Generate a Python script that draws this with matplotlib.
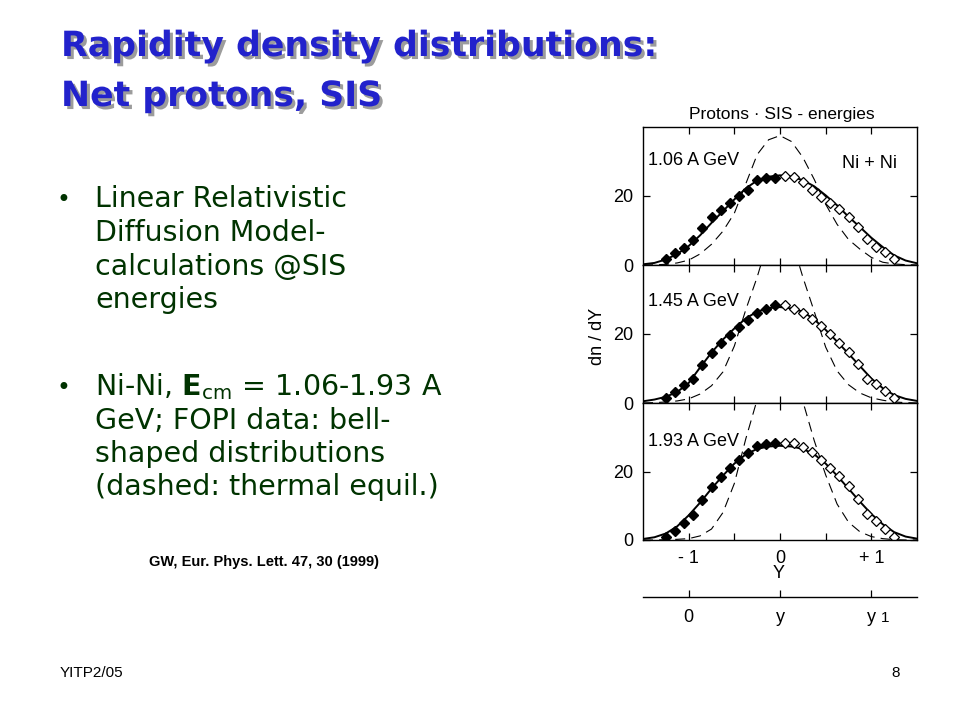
import matplotlib.pyplot as plt
import matplotlib.patheffects as pe

# Slide + figure: net-proton rapidity distributions at SIS energies (Ni + Ni)

# Model curves on a rapidity grid: full line = linear RDM, dashed = thermal equilibrium
model_Y = [-1.5, -1.375, -1.25, -1.125, -1.0, -0.875, -0.75, -0.625, -0.5, -0.375, -0.25, -0.125,
           0.0, 0.125, 0.25, 0.375, 0.5, 0.625, 0.75, 0.875, 1.0, 1.125, 1.25, 1.375, 1.5]

rdm_106 = [0.2, 0.6, 1.6, 3.2, 5.5, 8.6, 12.2, 15.6, 19.0, 22.2, 24.5, 25.6,
           26.0, 25.6, 24.6, 22.8, 20.2, 17.3, 14.0, 11.0, 7.9, 5.2, 2.8, 1.3, 0.5]
thermal_106 = [0.0, 0.05, 0.2, 0.6, 1.4, 3.2, 6.0, 9.8, 15.0, 23.5, 32.0, 36.3,
               37.5, 35.8, 31.2, 24.8, 17.6, 11.8, 7.4, 4.6, 2.2, 0.8, 0.3, 0.1, 0.0]

rdm_145 = [0.5, 1.0, 1.8, 3.2, 5.8, 10.3, 14.6, 18.4, 21.6, 24.5, 26.5, 27.5,
           27.8, 27.4, 26.5, 24.2, 21.2, 17.8, 14.3, 10.7, 7.1, 4.3, 2.3, 1.2, 0.6]
thermal_145 = [0.0, 0.1, 0.3, 0.6, 1.2, 2.6, 5.0, 9.0, 16.5, 27.0, 36.5, 47.5,
               50.5, 47.5, 36.5, 26.5, 16.2, 9.3, 5.3, 2.9, 1.5, 0.8, 0.3, 0.1, 0.0]

rdm_193 = [0.3, 0.8, 1.9, 4.0, 7.2, 10.9, 15.0, 18.8, 22.3, 25.0, 26.6, 27.3,
           27.5, 27.3, 26.6, 25.0, 22.3, 18.8, 15.0, 11.2, 7.6, 4.6, 2.3, 1.0, 0.4]
thermal_193 = [0.0, 0.0, 0.1, 0.2, 0.4, 1.2, 3.2, 8.0, 16.5, 29.5, 41.0, 49.0,
               52.0, 49.0, 40.5, 29.0, 19.0, 10.5, 5.2, 2.4, 1.0, 0.4, 0.1, 0.0, 0.0]

# FOPI data: measured points (filled) and points reflected at midrapidity (open)
data_Y_meas = [-1.25, -1.15, -1.05, -0.95, -0.85, -0.75, -0.65, -0.55, -0.45, -0.35, -0.25, -0.15, -0.05]
data_Y_refl = [0.05, 0.15, 0.25, 0.35, 0.45, 0.55, 0.65, 0.75, 0.85, 0.95, 1.05, 1.15, 1.25]

fopi_106_meas = [1.6, 3.6, 4.8, 7.2, 10.6, 13.8, 15.9, 18.0, 19.9, 21.6, 24.5, 25.3, 25.3]
fopi_106_refl = [25.7, 25.5, 24.2, 21.8, 19.8, 18.1, 16.1, 13.8, 11.0, 7.6, 5.2, 3.7, 1.6]
fopi_145_meas = [1.4, 3.2, 5.1, 6.9, 11.1, 14.6, 17.5, 19.8, 22.0, 24.0, 26.2, 27.3, 28.3]
fopi_145_refl = [28.5, 27.3, 26.2, 24.3, 22.2, 19.9, 17.5, 14.8, 11.4, 7.0, 5.4, 3.4, 1.5]
fopi_193_meas = [0.8, 2.7, 5.0, 7.2, 11.6, 15.5, 18.4, 21.0, 23.4, 25.3, 27.5, 28.0, 28.3]
fopi_193_refl = [28.3, 28.2, 27.2, 25.6, 23.4, 21.1, 18.6, 15.7, 11.9, 7.5, 5.5, 3.1, 1.0]

energy_labels = ["1.06 A GeV", "1.45 A GeV", "1.93 A GeV"]
x_ticks = [-1, -0.5, 0, 0.5, 1]
x_tick_labels = ["- 1", "", "0", "", "+ 1"]
y_ticks = [0, 20]
y_tick_labels = ["0", "20"]
lower_ticks = [-1, 0, 1]
lower_tick_labels = ["0", "y", "y"]

plt.rcParams["font.family"] = ["Liberation Sans", "DejaVu Sans"]

fig = plt.figure(figsize=(9.6, 7.2), dpi=100)


def fx(x):
    # pixel column -> figure fraction
    return x / 960


def fy(y):
    # pixel row (from top) -> figure fraction
    return 1 - y / 720


# ---- slide text ----
title_lines = ["Rapidity density distributions:", "Net protons, SIS"]
title_base = [56, 106]
shadow = [pe.withSimplePatchShadow(offset=(2.2, -2.2), shadow_rgbFace="#9c9c9c", alpha=1.0)]
for line, yb in zip(title_lines, title_base):
    fig.text(fx(61), fy(yb), line, fontsize=25, weight="bold", color="#2222cc",
             family="DejaVu Sans", va="baseline", path_effects=shadow)

green = "#003300"
bullet1 = ["Linear Relativistic", "Diffusion Model-", "calculations @SIS", "energies"]
bullet2 = [r"Ni-Ni, $\mathbf{E}_{\mathrm{cm}}$ = 1.06-1.93 A", "GeV; FOPI data: bell-",
           "shaped distributions", "(dashed: thermal equil.)"]
for lines, bases in [(bullet1, [207, 241, 275, 308]), (bullet2, [395, 429, 462, 495])]:
    fig.text(fx(57), fy(bases[0]), "\u2022", fontsize=17, color=green,
             family="DejaVu Sans", va="baseline")
    for line, yb in zip(lines, bases):
        fig.text(fx(95), fy(yb), line, fontsize=20.5, color=green,
                 family="DejaVu Sans", va="baseline")

fig.text(fx(264), fy(562), "GW, Eur. Phys. Lett. 47, 30 (1999)", fontsize=10.5,
         weight="bold", ha="center", va="center")
fig.text(fx(60), fy(677), "YITP2/05", fontsize=11, va="baseline")
fig.text(fx(900), fy(677), "8", fontsize=11, va="baseline", ha="right")

# ---- three panels ----
panels = [
    (rdm_106, thermal_106, fopi_106_meas, fopi_106_refl),
    (rdm_145, thermal_145, fopi_145_meas, fopi_145_refl),
    (rdm_193, thermal_193, fopi_193_meas, fopi_193_refl),
]
tops = [127, 265, 403]
bottoms = [265, 403, 540]
label_pos = [0.755, 0.735, 0.72]

for i, (rdm, thermal, meas, refl) in enumerate(panels):
    ax = fig.add_axes([fx(643), fy(bottoms[i]), 274 / 960, (bottoms[i] - tops[i]) / 720])
    ax.plot(model_Y, thermal, color="black", lw=0.8, dashes=(9, 5.5))
    ax.plot(model_Y, rdm, color="black", lw=1.4)
    ax.plot(data_Y_meas, meas, "D", ms=4.8, color="black")
    ax.plot(data_Y_refl, refl, "D", ms=4.8, mfc="white", mec="black", mew=0.9)
    ax.set_xlim(-1.5, 1.5)
    ax.set_ylim(0, 40)
    ax.set_xticks(x_ticks)
    ax.set_yticks(y_ticks)
    ax.set_yticklabels(y_tick_labels)
    if i == 2:
        ax.set_xticklabels(x_tick_labels)
    else:
        ax.set_xticklabels([])
    ax.tick_params(direction="in", top=True, right=True, length=5, width=0.9,
                   labelsize=13, pad=7)
    for s in ax.spines.values():
        s.set_linewidth(1.0)
    ax.text(0.018, label_pos[i], energy_labels[i], transform=ax.transAxes,
            fontsize=13, va="center")

fig.text(fx(897), fy(163.5), "Ni + Ni", fontsize=13, ha="right", va="center")
fig.text(fx(782), fy(114), "Protons \u00b7 SIS - energies", fontsize=12.5,
         ha="center", va="center")
fig.text(fx(597), fy(336), "dn / dY", fontsize=13, rotation=90, ha="center", va="center")
fig.text(fx(779), fy(573.5), "Y", fontsize=13, ha="center", va="center")

# ---- lower scale: rapidity y ----
ax4 = fig.add_axes([fx(643), fy(597), 274 / 960, 0.02])
ax4.set_facecolor("none")
for side in ["top", "left", "right"]:
    ax4.spines[side].set_visible(False)
ax4.spines["bottom"].set_linewidth(1.0)
ax4.set_xlim(-1.5, 1.5)
ax4.set_yticks([])
ax4.set_xticks(lower_ticks)
ax4.set_xticklabels(lower_tick_labels)
ax4.tick_params(axis="x", direction="in", length=5, width=0.9, labelsize=13, pad=9)
fig.text(fx(885), fy(618), "1", fontsize=11, ha="center", va="center")

fig.savefig("out.png", dpi=100)
